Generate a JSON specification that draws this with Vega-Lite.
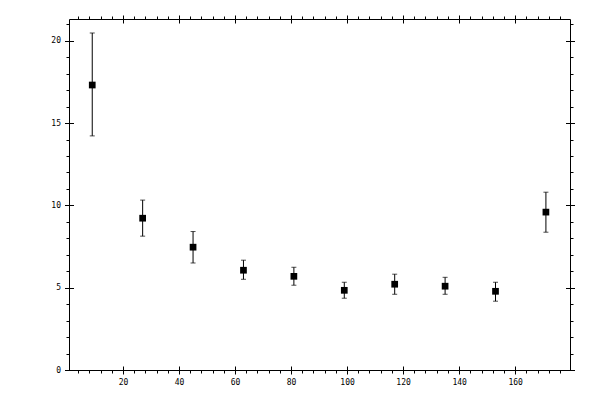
{
  "$schema": "https://vega.github.io/schema/vega-lite/v6.json",
  "autosize": "none",
  "width": 501,
  "height": 351,
  "padding": {"left": 69, "top": 19, "right": 30, "bottom": 30},
  "background": "white",
  "config": {
    "view": {"stroke": null},
    "axis": {
      "labelFont": "DejaVu Sans Mono",
      "labelFontSize": 8,
      "labelColor": "black",
      "domainColor": "black",
      "tickColor": "black",
      "domainWidth": 1,
      "tickWidth": 1,
      "grid": false,
      "title": null
    }
  },
  "data": {
    "values": [
      {"angle": 9, "value": 17.31, "lo": 14.22, "hi": 20.47},
      {"angle": 27, "value": 9.22, "lo": 8.13, "hi": 10.32},
      {"angle": 45, "value": 7.46, "lo": 6.50, "hi": 8.41},
      {"angle": 63, "value": 6.06, "lo": 5.51, "hi": 6.67},
      {"angle": 81, "value": 5.69, "lo": 5.15, "hi": 6.24},
      {"angle": 99, "value": 4.84, "lo": 4.36, "hi": 5.33},
      {"angle": 117, "value": 5.21, "lo": 4.60, "hi": 5.82},
      {"angle": 135, "value": 5.09, "lo": 4.60, "hi": 5.63},
      {"angle": 153, "value": 4.78, "lo": 4.18, "hi": 5.33},
      {"angle": 171, "value": 9.59, "lo": 8.37, "hi": 10.80}
    ]
  },
  "resolve": {"axis": {"x": "independent", "y": "independent"}},
  "layer": [
    {
      "mark": {"type": "rule", "color": "black", "strokeWidth": 1},
      "encoding": {
        "x": {
          "field": "angle", "type": "quantitative",
          "scale": {"domain": [0.7, 179.6], "nice": false, "zero": false},
          "axis": {"orient": "bottom", "values": [20, 40, 60, 80, 100, 120, 140, 160], "offset": -4, "tickSize": 8, "labelPadding": 4, "domain": false}
        },
        "y": {
          "field": "lo", "type": "quantitative",
          "scale": {"domain": [0, 21.32], "nice": false, "zero": false},
          "axis": {"orient": "left", "values": [0, 5, 10, 15, 20], "offset": -4.5, "tickSize": 9, "labelPadding": 4, "domain": false}
        },
        "y2": {"field": "hi"}
      }
    },
    {
      "mark": {"type": "tick", "orient": "horizontal", "color": "black", "size": 5, "thickness": 1},
      "encoding": {
        "x": {
          "field": "angle", "type": "quantitative",
          "axis": {"orient": "bottom", "values": [4, 8, 12, 16, 24, 28, 32, 36, 44, 48, 52, 56, 64, 68, 72, 76, 84, 88, 92, 96, 104, 108, 112, 116, 124, 128, 132, 136, 144, 148, 152, 156, 164, 168, 172, 176], "tickSize": 3, "labels": false, "domain": true}
        },
        "y": {
          "field": "lo", "type": "quantitative",
          "axis": {"orient": "left", "values": [1, 2, 3, 4, 6, 7, 8, 9, 11, 12, 13, 14, 16, 17, 18, 19, 21], "tickSize": 3, "labels": false, "domain": true}
        }
      }
    },
    {
      "mark": {"type": "tick", "orient": "horizontal", "color": "black", "size": 5, "thickness": 1},
      "encoding": {
        "x": {
          "field": "angle", "type": "quantitative",
          "axis": {"orient": "top", "values": [20, 40, 60, 80, 100, 120, 140, 160], "offset": -4, "tickSize": 8, "labels": false, "domain": false}
        },
        "y": {
          "field": "hi", "type": "quantitative",
          "axis": {"orient": "right", "values": [0, 5, 10, 15, 20], "offset": -4.5, "tickSize": 9, "labels": false, "domain": false}
        }
      }
    },
    {
      "mark": {"type": "point", "shape": "square", "filled": true, "color": "black", "size": 45, "opacity": 1},
      "encoding": {
        "x": {
          "field": "angle", "type": "quantitative",
          "axis": {"orient": "top", "values": [4, 8, 12, 16, 24, 28, 32, 36, 44, 48, 52, 56, 64, 68, 72, 76, 84, 88, 92, 96, 104, 108, 112, 116, 124, 128, 132, 136, 144, 148, 152, 156, 164, 168, 172, 176], "tickSize": 3, "labels": false, "domain": true}
        },
        "y": {
          "field": "value", "type": "quantitative",
          "axis": {"orient": "right", "values": [1, 2, 3, 4, 6, 7, 8, 9, 11, 12, 13, 14, 16, 17, 18, 19, 21], "tickSize": 3, "labels": false, "domain": true}
        }
      }
    }
  ]
}
